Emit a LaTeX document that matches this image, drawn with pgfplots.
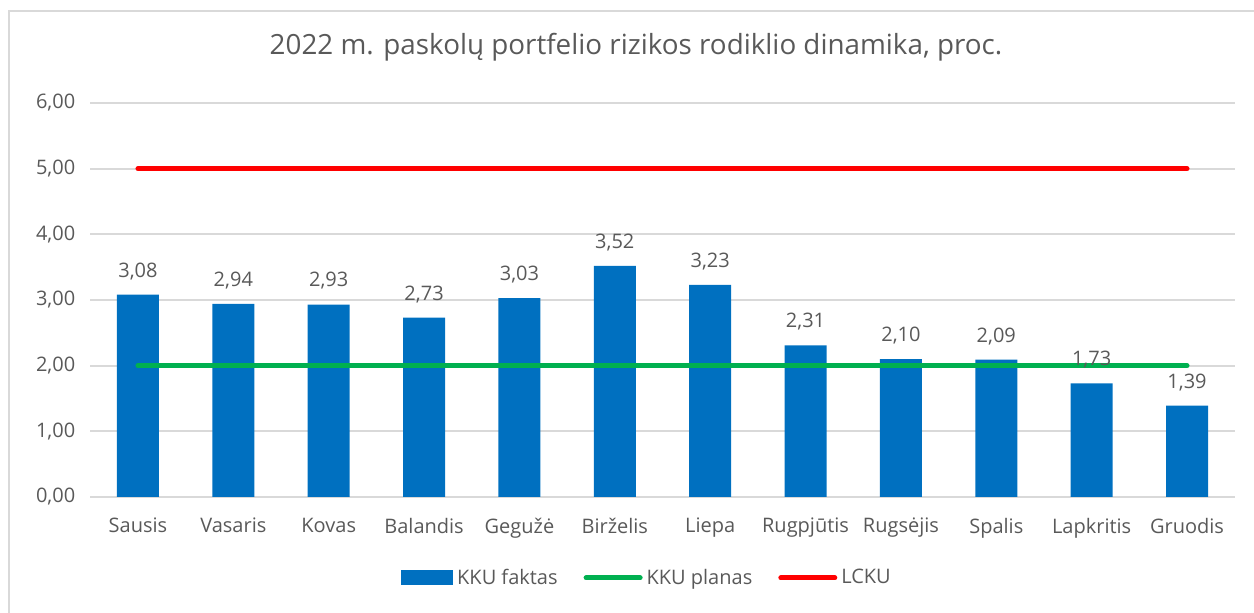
\documentclass[border=0pt]{standalone}
\usepackage{pgfplots}
\pgfplotsset{compat=1.18}
\usepackage{fontspec}
\setmainfont{Open Sans}
\definecolor{txt}{HTML}{595959}
\definecolor{grd}{HTML}{D9D9D9}
\definecolor{barblue}{HTML}{0070C0}
\definecolor{lgreen}{HTML}{00B050}
\definecolor{lred}{HTML}{FF0000}
\begin{document}
\begin{tikzpicture}
\path[use as bounding box] (0,0) rectangle (627pt,306.5pt);
\draw[grd, line width=1pt] (4.5pt,0) -- (4.5pt,301pt) -- (627pt,301pt);
\node[txt, font=\fontsize{13.9}{16}\selectfont] at (318pt,283pt) {2022 m. paskolų portfelio rizikos rodiklio dinamika, proc.};
\begin{axis}[
  at={(45.15pt,58pt)}, anchor=south west,
  scale only axis, width=572.2pt, height=197pt,
  xmin=-0.5, xmax=11.5, ymin=0, ymax=6,
  ytick={0,1,2,3,4,5,6},
  yticklabel style={xshift=-4pt},
  yticklabel style={/pgf/number format/.cd, fixed, fixed zerofill, precision=2, use comma},
  /pgf/number format/assume math mode=true,
  xtick={0,...,11},
  xticklabels={Sausis,Vasaris,Kovas,Balandis,Geguž\.e,Birželis,Liepa,Rugpjūtis,Rugs\.ejis,Spalis,Lapkritis,Gruodis},
  tick style={draw=none},
  axis line style={draw=none},
  ymajorgrids, grid style={grd, line width=1pt},
  ticklabel style={txt, font=\fontsize{10}{12}\selectfont},
  xticklabel style={yshift=-7pt},
  legend columns=3,
  legend style={at={(0.4873,-0.2056)}, anchor=center, draw=none, fill=none,
    font=\fontsize{10}{12}\selectfont, text=txt,
    /tikz/every even column/.append style={column sep=11pt}},
  legend cell align=left,
]
\addplot[ybar, bar width=21pt, fill=barblue, draw=none,
  nodes near coords, nodes near coords style={txt, font=\fontsize{10}{12}\selectfont, yshift=4pt,
    /pgf/number format/.cd, fixed, fixed zerofill, precision=2, use comma, assume math mode=true},
  area legend,
  legend image code/.code={\fill[barblue] (0pt,-3.75pt) rectangle (26pt,3.75pt);}]
  coordinates {(0,3.08) (1,2.94) (2,2.93) (3,2.73) (4,3.03) (5,3.52) (6,3.23) (7,2.31) (8,2.10) (9,2.09) (10,1.73) (11,1.39)};
\addlegendentry{KKU faktas}
\addplot[lgreen, line width=2.5pt, line cap=round,
  legend image code/.code={\draw[lgreen, line width=2.5pt, line cap=round] (0pt,0pt) -- (27pt,0pt);}]
  coordinates {(0,2) (1,2) (2,2) (3,2) (4,2) (5,2) (6,2) (7,2) (8,2) (9,2) (10,2) (11,2)};
\addlegendentry{KKU planas}
\addplot[lred, line width=2.5pt, line cap=round,
  legend image code/.code={\draw[lred, line width=2.5pt, line cap=round] (0pt,0pt) -- (27pt,0pt);}]
  coordinates {(0,5) (1,5) (2,5) (3,5) (4,5) (5,5) (6,5) (7,5) (8,5) (9,5) (10,5) (11,5)};
\addlegendentry{LCKU}
\end{axis}
\end{tikzpicture}
\end{document}
